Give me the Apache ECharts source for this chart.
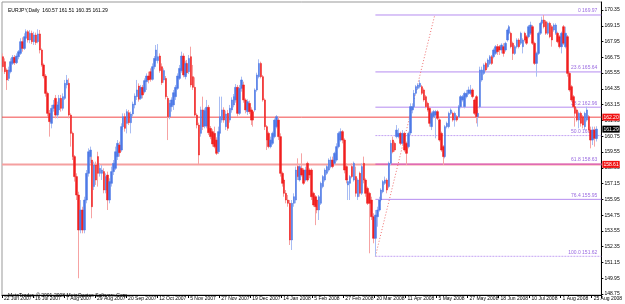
<!DOCTYPE html>
<html><head><meta charset="utf-8">
<script src="https://cdn.jsdelivr.net/npm/echarts@6/dist/echarts.min.js"></script>
<style>html,body{margin:0;padding:0;background:#fff}#c{width:625px;height:304px}</style>
</head><body><div id="c"></div>
<script>
const titleText = 'EURJPY,Daily  160.57 161.51 160.35 161.29';
const copyrightText = 'MetaTrader, \u00a9 2001-2008 MetaQuotes Software Corp.';
const dateLabels = ['22 Jun 2007','16 Jul 2007','7 Aug 2007','29 Aug 2007','20 Sep 2007','12 Oct 2007','5 Nov 2007','27 Nov 2007','19 Dec 2007','14 Jan 2008','5 Feb 2008','27 Feb 2008','20 Mar 2008','11 Apr 2008','5 May 2008','27 May 2008','18 Jun 2008','10 Jul 2008','1 Aug 2008','25 Aug 2008'];
const barsPerLabel = 16;
const priceTicks = [170.35,169.15,167.95,166.75,165.55,164.35,163.15,161.95,160.75,159.55,158.35,157.15,155.95,154.75,153.55,152.35,151.15,149.95,148.75];
// [open, close, low, high]
const candles = [
[166.80,166.04,165.66,167.05],[166.42,165.66,165.48,166.67],[165.79,165.03,164.27,165.91],[165.15,165.79,164.95,166.04],
[165.66,166.42,165.53,166.67],[166.29,166.75,166.17,166.93],[166.75,166.34,166.17,166.93],[166.34,166.85,166.24,167.05],
[166.80,167.18,166.60,167.31],[167.05,167.94,166.93,168.20],[167.94,167.43,167.18,168.27],[167.43,168.32,167.31,168.58],
[168.20,168.70,167.94,168.88],[168.70,168.07,167.87,168.83],[168.07,168.58,167.82,168.83],[168.58,167.94,167.76,168.78],
[167.94,168.45,167.69,168.70],[168.45,167.87,167.69,168.63],[167.94,168.53,167.82,168.88],[168.53,167.31,167.05,168.83],
[167.31,166.17,166.04,167.43],[166.17,165.33,165.15,166.29],[165.33,164.01,163.76,165.48],[164.01,162.49,162.24,164.14],
[162.49,161.86,160.72,162.75],[161.73,162.87,161.35,163.13],[162.87,163.13,162.62,163.51],[163.63,162.36,162.11,163.89],
[162.36,163.13,162.11,163.38],[162.75,163.63,162.49,163.89],[163.63,162.87,162.62,163.89],[162.87,163.76,162.70,164.01],
[163.63,164.77,163.51,165.03],[164.65,165.03,164.39,165.41],[164.77,162.36,162.11,165.15],[162.36,160.97,159.96,162.49],
[160.97,159.20,158.94,161.10],[159.20,157.68,157.30,159.32],[157.68,156.28,155.90,157.93],[156.28,153.62,149.95,156.53],
[153.62,155.14,153.37,155.90],[155.14,153.62,153.37,155.39],[153.62,155.90,153.37,156.15],[155.90,157.93,155.65,158.18],
[157.93,159.57,157.68,159.83],[159.20,159.70,158.69,159.96],[158.94,155.39,154.51,159.20],[156.92,158.56,156.66,158.82],
[158.56,157.42,157.05,158.82],[159.20,157.93,156.92,159.57],[157.93,158.31,157.68,158.69],[157.93,158.18,157.42,158.56],
[158.06,156.66,156.41,158.31],[156.66,157.68,156.41,157.93],[157.80,155.90,155.14,158.06],[155.90,157.30,155.65,157.55],
[157.17,158.06,156.92,158.44],[158.06,158.69,157.80,158.94],[158.31,159.57,158.18,159.96],[159.20,160.21,158.94,160.46],
[160.08,159.50,159.20,160.34],[159.70,161.48,159.57,161.73],[161.48,162.24,161.22,162.49],[162.24,161.35,161.10,162.49],
[161.73,162.62,160.97,162.80],[162.54,161.78,161.60,162.75],[161.78,162.44,160.97,162.62],[162.44,163.20,162.24,163.38],
[163.13,163.81,162.87,164.01],[163.76,164.27,163.51,165.03],[164.57,163.56,163.38,164.77],[163.63,164.47,163.51,164.65],
[164.47,163.89,163.63,164.65],[164.14,164.98,164.01,165.15],[164.90,165.33,164.27,165.53],[165.33,165.03,164.77,165.66],
[165.66,165.08,164.90,165.91],[165.08,166.04,164.98,166.29],[166.04,166.67,165.84,166.85],[166.50,167.31,166.29,167.69],
[166.50,166.80,166.29,167.76],[166.85,165.74,165.58,167.05],[166.04,164.82,164.65,166.29],[165.03,165.74,164.82,165.91],
[165.15,163.76,163.56,165.33],[163.63,162.24,160.46,163.81],[162.24,163.25,162.04,163.51],[163.00,163.51,162.62,163.71],
[163.13,164.06,162.75,164.27],[163.76,164.47,163.51,164.65],[164.39,165.33,164.27,165.53],[165.15,165.91,165.03,166.17],
[165.74,166.85,165.58,167.18],[166.85,165.41,165.23,167.05],[165.28,166.29,165.08,166.50],[166.29,165.58,165.41,166.55],
[165.66,166.67,165.48,166.93],[166.80,164.65,164.47,167.56],[165.28,164.47,164.27,166.17],[164.47,162.36,162.19,165.23],
[162.36,161.60,161.35,162.49],[161.60,159.32,158.63,161.78],[160.97,162.75,160.72,163.00],[162.75,161.48,161.22,163.76],
[161.52,162.70,161.35,162.87],[161.52,162.95,161.35,163.51],[162.95,161.02,160.84,163.13],[161.35,160.72,160.52,161.53],
[161.10,160.16,159.96,161.28],[160.97,159.96,159.83,161.48],[160.46,159.45,159.32,160.67],[159.57,161.10,159.40,161.48],
[160.97,162.24,160.77,163.76],[161.98,162.75,161.78,163.76],[162.75,161.98,161.78,162.95],[161.48,162.44,161.22,162.70],
[162.49,161.35,161.17,162.75],[161.98,162.87,161.78,163.13],[162.75,163.51,162.54,163.71],[163.13,163.76,162.95,163.96],
[163.51,164.47,163.30,164.72],[164.47,162.49,162.24,164.65],[162.49,164.39,162.36,164.65],[164.39,165.03,164.14,165.28],
[164.65,163.51,163.30,164.90],[163.51,162.75,162.49,163.63],[162.62,163.38,162.36,163.56],[163.25,162.62,162.44,163.46],
[162.75,161.98,161.60,162.95],[162.62,161.98,161.48,162.75],[162.75,164.27,162.62,164.39],[164.27,165.41,164.14,165.58],
[165.28,166.29,165.15,166.60],[166.29,165.28,165.15,166.42],[165.28,163.51,163.38,165.41],[163.51,161.48,161.22,163.63],
[161.48,160.46,159.70,161.60],[160.97,159.96,159.83,161.10],[159.96,160.46,159.83,160.72],[160.21,160.97,160.08,161.10],
[160.72,161.98,160.59,162.11],[161.48,162.24,161.35,162.36],[161.98,160.72,160.46,162.24],[160.72,157.93,157.68,160.97],
[157.93,157.17,156.92,158.06],[157.42,156.41,156.15,157.55],[156.41,155.90,155.65,156.66],[155.90,155.65,155.39,156.28],
[155.65,152.86,152.48,155.90],[152.86,155.65,152.10,155.90],[155.65,156.15,155.39,156.41],[155.90,158.18,155.65,158.44],
[158.44,157.68,157.42,159.07],[157.42,158.44,157.30,158.56],[158.31,157.80,157.68,159.45],[158.18,157.17,157.05,158.31],
[157.42,158.18,157.30,158.44],[158.69,157.42,157.30,158.82],[158.18,157.80,157.55,158.31],[158.18,156.15,155.90,158.31],
[156.41,155.52,155.39,156.53],[156.15,155.39,153.99,156.28],[155.90,155.14,154.89,156.15],[155.14,156.15,154.38,156.28],
[155.65,157.17,155.52,157.30],[156.92,157.68,156.79,157.80],[157.42,158.18,157.30,158.31],[157.93,158.44,157.80,158.56],
[158.18,158.94,158.06,159.07],[158.44,158.94,158.31,159.20],[158.94,158.44,158.31,159.20],[158.69,159.45,158.56,159.57],
[158.94,159.96,158.82,160.21],[159.96,160.97,159.83,161.10],[160.46,161.10,160.34,161.35],[161.10,160.46,160.21,161.22],
[160.46,158.18,157.93,160.59],[158.44,157.42,157.17,158.69],[157.05,157.30,155.90,157.55],[157.17,157.68,155.90,157.80],
[158.44,157.68,157.55,158.69],[157.42,158.69,157.30,158.82],[157.68,156.41,156.15,158.44],[156.15,157.42,155.90,157.55],
[157.93,156.41,156.15,158.06],[156.41,158.44,156.28,158.69],[158.69,157.42,157.17,159.20],[157.42,156.41,156.15,157.55],
[156.79,155.65,155.52,156.92],[156.41,155.65,151.85,156.53],[155.90,154.63,154.38,156.15],[154.63,152.99,152.61,154.89],
[152.99,154.76,151.62,155.14],[154.63,155.14,153.87,155.39],[155.14,155.90,155.02,156.15],[155.90,156.66,155.77,156.79],
[156.53,157.30,156.41,157.42],[157.17,157.42,157.05,157.68],[157.42,156.66,156.41,157.55],[156.92,158.69,156.79,158.82],
[158.69,160.21,158.56,160.46],[160.46,159.57,159.45,160.72],[160.21,159.70,159.57,160.34],[160.72,161.22,160.59,161.60],
[160.72,160.97,160.59,161.35],[160.97,160.21,160.08,161.10],[160.21,160.97,160.08,161.22],[160.97,159.70,159.57,161.10],
[160.21,159.45,158.56,160.34],[159.96,160.97,159.83,161.10],[161.00,163.00,160.84,163.25],[162.75,163.00,162.49,163.25],
[163.00,164.01,162.87,164.27],[164.01,164.52,163.89,164.65],[164.39,164.65,164.27,164.77],[164.52,164.77,164.39,165.03],
[164.52,164.01,163.89,164.65],[164.27,163.51,163.38,164.39],[163.76,163.00,162.87,163.89],[163.25,162.75,162.62,163.38],
[162.87,161.73,161.48,163.00],[161.48,162.49,161.22,162.62],[162.24,162.62,162.11,162.75],[162.36,162.62,160.59,162.75],
[162.62,162.11,161.98,162.75],[162.00,160.46,160.34,162.11],[160.97,159.70,159.57,161.10],[159.96,159.20,158.56,160.08],
[159.20,161.48,159.07,161.60],[161.48,161.73,161.35,161.86],[161.48,162.49,161.35,162.62],[162.49,162.75,162.36,162.87],
[162.49,161.98,161.86,162.62],[161.98,162.49,161.48,162.62],[162.24,161.98,161.86,162.36],[162.24,163.00,162.11,163.13],
[163.00,163.76,162.87,163.89],[163.51,163.76,163.38,163.89],[163.00,164.01,162.87,164.14],[163.76,164.01,163.63,164.27],
[164.01,164.27,163.89,164.52],[164.01,164.27,163.89,164.65],[164.27,163.76,163.63,164.39],[163.51,162.49,162.36,163.63],
[163.76,162.24,161.73,163.89],[162.24,162.49,161.48,162.75],[163.00,165.79,162.87,166.04],[165.03,165.79,164.90,166.04],
[165.53,166.17,165.41,166.29],[166.29,165.79,165.66,166.42],[166.04,166.55,165.91,166.67],[166.29,166.80,166.17,166.93],
[166.80,166.29,166.17,166.93],[166.80,167.31,166.67,167.43],[167.05,167.56,166.93,167.69],[167.56,167.18,166.93,167.76],
[167.56,167.31,166.93,167.69],[167.31,167.69,167.05,167.82],[167.56,167.05,166.80,167.82],[167.31,167.82,167.18,167.94],
[168.07,168.83,167.94,168.95],[168.58,169.08,168.45,169.21],[168.58,167.56,167.43,168.70],[167.82,167.05,166.55,167.94],
[167.05,167.56,166.93,167.69],[167.56,168.07,167.43,168.20],[168.07,167.56,167.43,168.20],[167.82,168.58,167.69,168.70],
[167.56,168.07,167.05,168.20],[168.58,168.07,167.94,168.70],[168.32,167.82,167.69,168.45],[168.32,169.08,168.20,169.21],
[168.58,169.21,168.45,169.46],[169.08,167.82,167.69,169.21],[167.82,166.29,166.17,167.94],[166.29,167.05,165.28,167.18],
[167.05,168.58,166.93,168.70],[168.58,169.34,168.45,169.46],[169.34,169.59,169.21,169.84],[169.59,169.08,168.95,169.97],
[169.46,168.58,168.45,169.59],[168.58,169.34,168.45,169.46],[169.34,168.32,168.20,169.46],[169.08,168.07,167.56,169.21],
[168.83,169.21,168.70,169.34],[168.58,169.21,168.45,169.34],[168.58,167.94,167.82,168.70],[168.32,167.56,167.43,168.45],
[167.56,168.58,167.05,168.70],[169.08,167.82,167.69,169.21],[167.56,168.58,167.43,169.08],[168.32,165.53,165.28,168.45],
[165.53,164.27,164.14,165.66],[164.52,163.51,163.38,164.65],[163.76,163.00,162.87,163.89],[163.00,162.49,161.48,163.13],
[162.75,161.98,161.86,162.87],[161.98,162.49,161.35,162.62],[162.49,161.73,161.48,162.62],[162.24,161.60,161.35,162.36],
[161.48,162.49,161.22,162.62],[161.98,162.75,161.86,163.00],[162.24,161.22,161.10,162.36],[161.22,160.46,159.83,161.48],
[160.46,161.22,160.08,161.48],[161.22,160.59,159.96,161.48],[160.57,161.29,160.35,161.51]
];
const fibLevels = ['0', '23.6', '38.2', '50.0', '61.8', '76.4', '100.0'];
const fibPrices = [169.97, 165.64, 162.96, 160.80, 158.63, 155.95, 151.62];
const fibStartBar = 192;
const trendPoints = [[192, 151.62], [222.6, 169.97]];
const redLevels = [162.20, 158.61];
const lastPrice = 161.29;

const N = candles.length;
const slots = N + 2;
const cats = Array.from({length: slots}, (_, i) => String(i));
const bodies = candles.map(c => [c[0], c[1], Math.min(c[0], c[1]), Math.max(c[0], c[1])]);
const FONT = 'Liberation Sans';
const showIdx = (i) => i % barsPerLabel === 0 && (i / barsPerLabel) < dateLabels.length;

const fibSeries = fibLevels.map((lvl, k) => ({
  type: 'line', xAxisIndex: 1, yAxisIndex: 0, silent: true, animation: false,
  symbol: 'circle', symbolSize: 0, showSymbol: true,
  lineStyle: {color: k === 4 ? '#d24bc0' : '#b58cf0', width: 1, type: (k === 3 || k === 6) ? [2, 1] : 'solid', opacity: (k === 3 || k === 6) ? 0.8 : 1},
  z: 3,
  data: [
    [fibStartBar, fibPrices[k]],
    {value: [slots - 0.5, fibPrices[k]], label: {show: true, position: 'left', distance: 4, offset: [0, -4],
      formatter: lvl + ' ' + fibPrices[k].toFixed(2), fontSize: 5, fontFamily: FONT, color: '#9a6ae0'}}
  ]
}));

function levelSeries(price, lineColor, width, boxColor, z) {
  return {
    type: 'line', xAxisIndex: 1, yAxisIndex: 0, silent: true, animation: false,
    symbol: 'circle', symbolSize: 0, showSymbol: true, z: z,
    lineStyle: {color: lineColor, width: width, type: 'solid'},
    data: [
      [-0.5, price],
      {value: [slots - 0.5, price], label: {show: true, position: 'right', distance: 1,
        formatter: price.toFixed(2), backgroundColor: boxColor, color: '#fff', fontSize: 5, fontFamily: FONT, padding: [1, 1]}}
    ]
  };
}

const chart = echarts.init(document.getElementById('c'), null, {renderer: 'canvas'});
chart.setOption({
  animation: false,
  backgroundColor: '#fff',
  title: [
    {text: titleText, left: 3, top: 3, textStyle: {fontSize: 5, fontWeight: 'normal', color: '#000', fontFamily: FONT}},
    {text: copyrightText, left: 3, top: 288, textStyle: {fontSize: 5, fontWeight: 'normal', color: '#000', fontFamily: FONT}}
  ],
  grid: {left: 2, right: 18, top: 2, bottom: 9, show: true, borderColor: '#999', borderWidth: 1, backgroundColor: 'transparent'},
  xAxis: [
    {type: 'category', data: cats, boundaryGap: true,
     axisLine: {show: true, onZero: false, lineStyle: {color: '#000'}},
     axisTick: {show: true, interval: (i) => showIdx(i), length: 3, lineStyle: {color: '#000'}},
     axisLabel: {interval: (i) => showIdx(i), formatter: (v, i) => showIdx(i) ? dateLabels[i / barsPerLabel] : '',
       align: 'left', margin: 1, fontSize: 5, fontFamily: FONT, color: '#000', padding: [0,0,0,1]},
     splitLine: {show: false}},
    {type: 'value', min: -0.5, max: slots - 0.5, show: false, axisLine: {onZero: false}}
  ],
  yAxis: {
    type: 'value', position: 'right', min: 148.677, max: 170.958, scale: true,
    axisLine: {show: true, onZero: false, lineStyle: {color: '#000'}},
    axisTick: {show: true, customValues: priceTicks, length: 2, lineStyle: {color: '#000'}},
    axisLabel: {customValues: priceTicks, formatter: (v) => v.toFixed(2), fontSize: 5, fontFamily: FONT, color: '#000', margin: 3},
    splitLine: {show: false}
  },
  series: [
    {type: 'candlestick', name: 'wicks', data: candles, barWidth: 1, silent: true, z: 4,
     itemStyle: {color: '#a9bdf3', color0: '#f6a3a3', borderColor: '#a9bdf3', borderColor0: '#f6a3a3', borderWidth: 1}},
    {type: 'candlestick', name: 'bodies', data: bodies, barWidth: 2, silent: true, z: 5,
     itemStyle: {color: '#4d79e6', color0: '#f01f1f', borderColor: '#4d79e6', borderColor0: '#f01f1f', borderWidth: 0.5}},
    levelSeries(redLevels[1], '#f5a0a0', 2, '#f01010', 2),
    levelSeries(redLevels[0], '#f24848', 1, '#f01010', 2),
    levelSeries(lastPrice, 'rgba(0,0,0,0)', 0, '#000', 2),
    ...fibSeries,
    {type: 'line', xAxisIndex: 1, data: trendPoints, symbol: 'none', silent: true, z: 3,
     lineStyle: {color: '#f07070', width: 1, type: [1, 2]}}
  ]
});
</script></body></html>
